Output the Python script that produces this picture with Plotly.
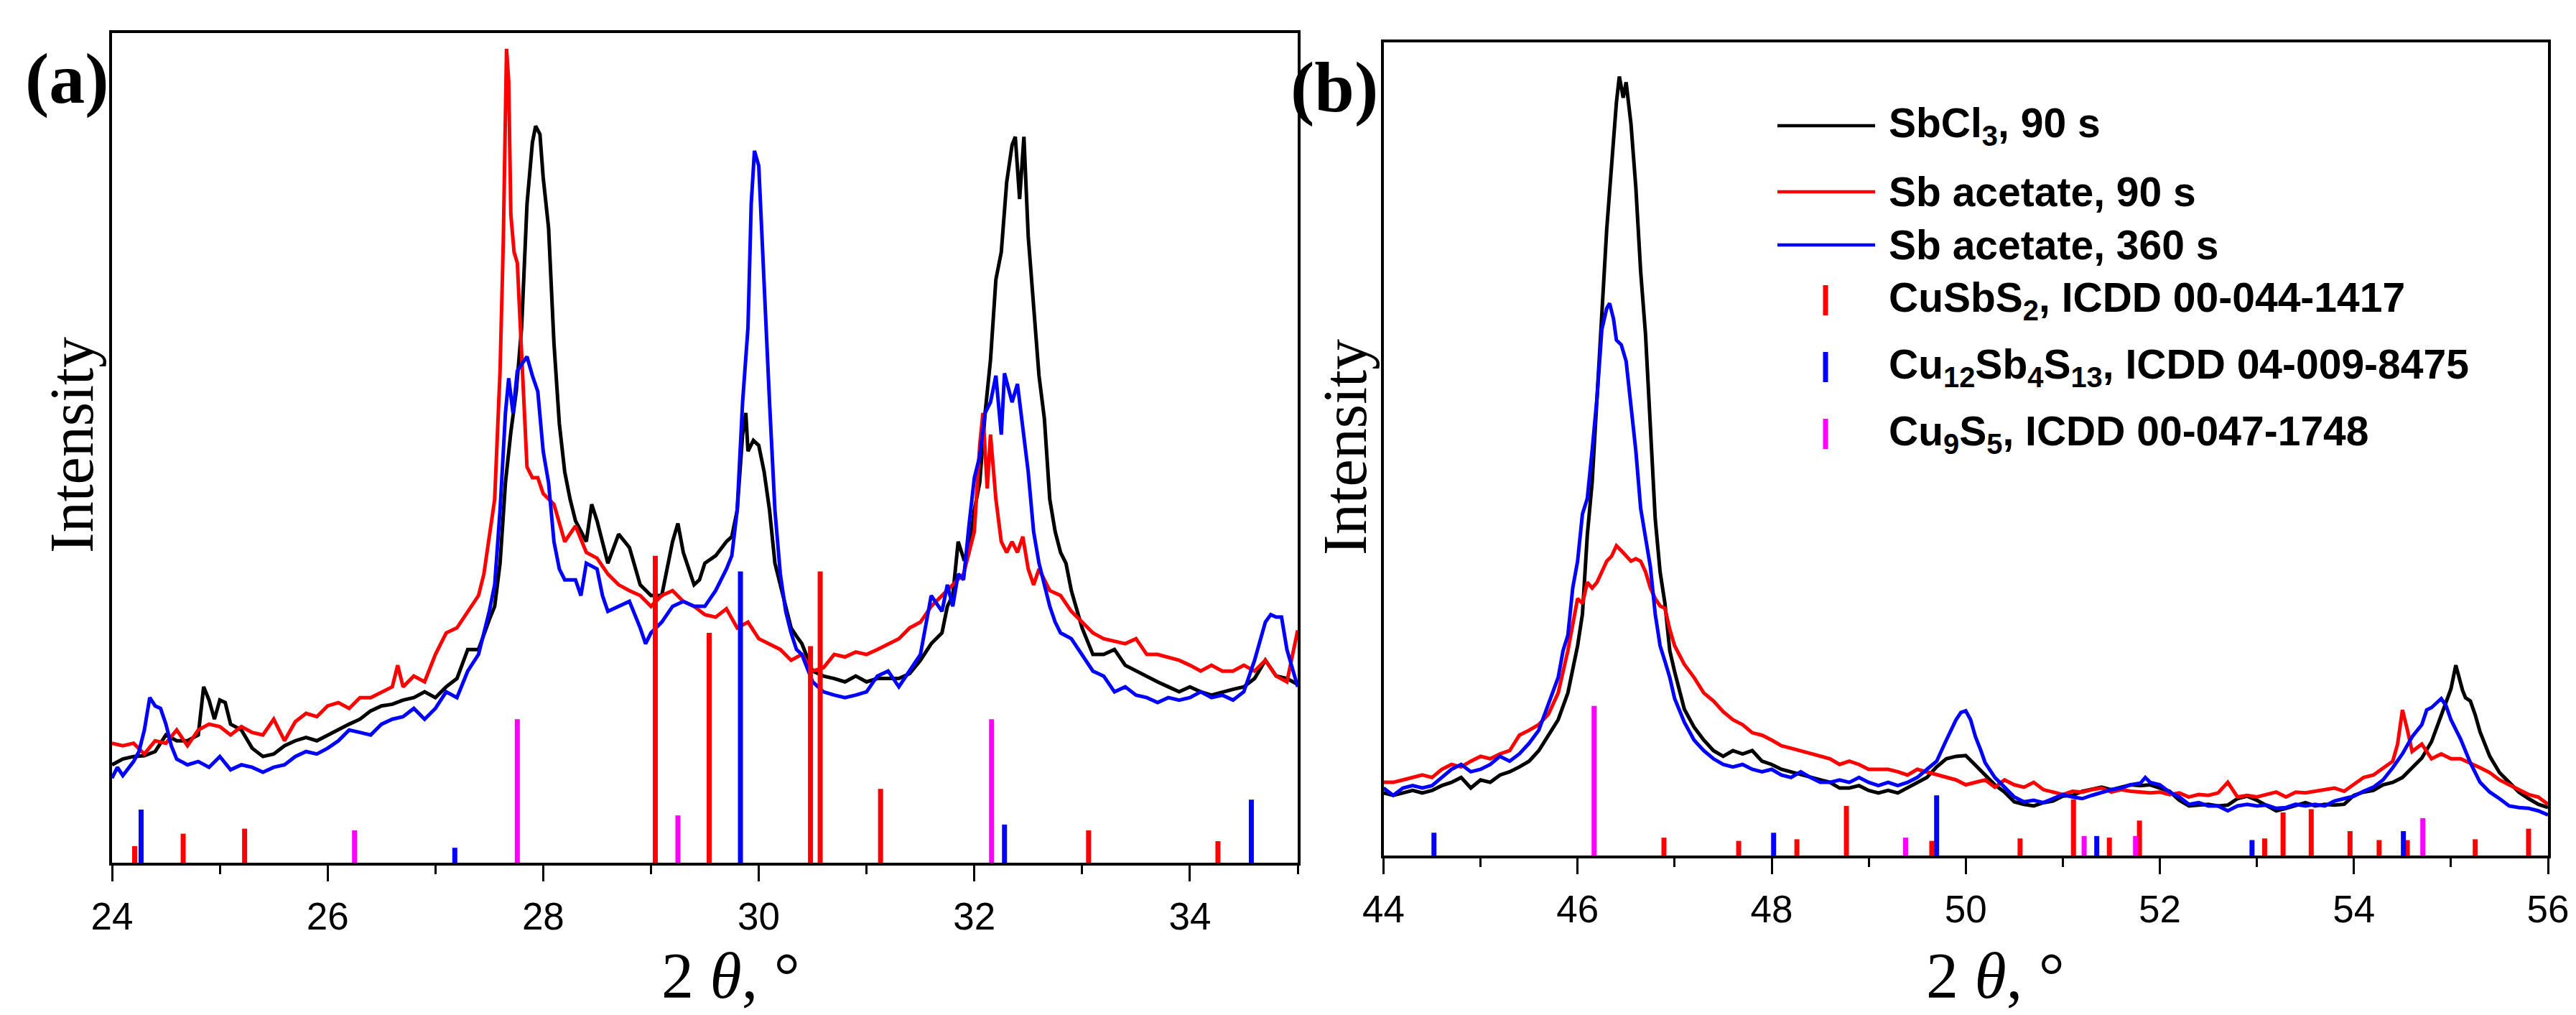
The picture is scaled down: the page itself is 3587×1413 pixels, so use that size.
import plotly.graph_objects as go

# ---------- panel (a): 2theta 24-35 ----------
a_x_sbcl3 = [24.0, 24.1, 24.2, 24.3, 24.4, 24.5, 24.6, 24.7, 24.8, 24.85, 24.9, 24.95,
             25.0, 25.05, 25.1, 25.2, 25.3, 25.4, 25.5, 25.6, 25.7, 25.8, 25.9,
             26.0, 26.1, 26.2, 26.3, 26.4, 26.5, 26.6, 26.7, 26.8, 26.9,
             27.0, 27.1, 27.2, 27.3, 27.4, 27.5, 27.55, 27.6, 27.65, 27.7, 27.75, 27.8, 27.85, 27.9, 27.93, 27.97,
             28.0, 28.05, 28.1, 28.15, 28.2, 28.25, 28.3, 28.4, 28.45, 28.5, 28.55, 28.6, 28.7, 28.8, 28.9,
             29.0, 29.1, 29.2, 29.25, 29.3, 29.4, 29.45, 29.5, 29.6, 29.7, 29.75, 29.8, 29.85, 29.88, 29.9, 29.95,
             30.0, 30.05, 30.1, 30.15, 30.2, 30.25, 30.3, 30.35, 30.4, 30.5, 30.6, 30.7, 30.8, 30.9,
             31.0, 31.1, 31.2, 31.3, 31.4, 31.5, 31.6, 31.7, 31.75, 31.8, 31.85, 31.9, 31.95,
             32.0, 32.05, 32.1, 32.15, 32.2, 32.25, 32.3, 32.35, 32.38, 32.42, 32.46, 32.5, 32.55, 32.6, 32.65,
             32.7, 32.75, 32.8, 32.85, 32.9,
             33.0, 33.1, 33.2, 33.3, 33.4, 33.5, 33.6, 33.7, 33.8, 33.9,
             34.0, 34.1, 34.2, 34.3, 34.4, 34.5, 34.6, 34.7, 34.8, 34.9, 35.0]
a_y_sbcl3 = [11.8, 12.5, 12.8, 12.9, 13.4, 15.4, 14.7, 14.7, 15.4, 21.2, 19.6, 17.3,
             19.6, 19.3, 16.7, 16.0, 13.8, 12.8, 13.1, 14.1, 14.7, 15.1, 14.7,
             15.4, 16.0, 16.7, 17.3, 18.3, 18.9, 19.1, 19.6, 19.9, 20.6,
             19.9, 21.2, 22.2, 25.7, 25.7, 29.3, 30.9, 36.1, 45.8, 51.9, 56.8, 64.5, 79.4, 86.8, 88.8, 87.8,
             82.6, 76.5, 62.6, 52.9, 47.1, 43.8, 41.2, 38.7, 43.2, 41.2, 38.7, 36.1, 39.6, 38.0, 33.5,
             32.2, 32.2, 38.7, 40.9, 37.4, 33.5, 34.1, 36.1, 37.0, 38.7, 39.3, 42.5, 51.6, 54.2, 49.6, 50.9,
             50.3, 47.1, 42.5, 36.1, 33.5, 30.9, 28.3, 27.3, 26.4, 23.1, 22.5, 22.2, 21.8, 22.5,
             21.8, 22.2, 22.2, 22.2, 22.8, 24.4, 26.4, 27.7, 30.9, 32.2, 38.7, 36.7, 37.4,
             42.5, 45.8, 54.2, 60.6, 70.3, 73.6, 82.0, 86.5, 87.5, 80.0, 87.5, 75.5, 67.1, 58.7, 53.5,
             43.8, 39.9, 37.4, 36.1, 32.8,
             28.3, 25.1, 25.1, 25.7, 23.8, 23.1, 22.5, 21.8, 21.2, 20.6,
             21.2, 20.6, 20.2, 20.6, 20.9, 21.2, 22.2, 24.4, 22.5, 22.2, 21.5]

a_x_ac90 = [24.0, 24.1, 24.2, 24.3, 24.4, 24.5, 24.6, 24.7, 24.8, 24.9,
            25.0, 25.1, 25.2, 25.3, 25.4, 25.5, 25.6, 25.7, 25.8, 25.9,
            26.0, 26.1, 26.2, 26.3, 26.4, 26.5, 26.6, 26.65, 26.7, 26.8, 26.9,
            27.0, 27.1, 27.2, 27.3, 27.4, 27.45, 27.5, 27.55, 27.6, 27.63, 27.66, 27.68, 27.7, 27.73, 27.76,
            27.8, 27.85, 27.9, 27.95,
            28.0, 28.1, 28.2, 28.3, 28.4, 28.5, 28.6, 28.7, 28.8, 28.9,
            29.0, 29.1, 29.2, 29.3, 29.4, 29.5, 29.6, 29.7, 29.8, 29.9,
            30.0, 30.1, 30.2, 30.3, 30.4, 30.5, 30.6, 30.7, 30.8, 30.9,
            31.0, 31.1, 31.2, 31.3, 31.4, 31.5, 31.6, 31.7, 31.8, 31.9,
            32.0, 32.05, 32.08, 32.12, 32.15, 32.2, 32.25, 32.3, 32.35, 32.4, 32.45, 32.5, 32.55, 32.6,
            32.7, 32.8, 32.9,
            33.0, 33.1, 33.2, 33.3, 33.4, 33.5, 33.6, 33.7, 33.8, 33.9,
            34.0, 34.1, 34.2, 34.3, 34.4, 34.5, 34.6, 34.7, 34.8, 34.9, 35.0]
a_y_ac90 = [14.4, 14.1, 14.4, 13.1, 14.7, 14.4, 16.0, 14.1, 16.0, 16.7,
            16.4, 15.4, 16.4, 15.7, 15.4, 17.3, 14.7, 17.0, 18.0, 17.6,
            18.9, 19.3, 18.6, 19.9, 19.9, 20.6, 21.2, 23.8, 21.2, 22.5, 21.8,
            25.1, 27.7, 28.3, 30.3, 32.2, 34.8, 39.3, 43.8, 59.3, 74.9, 98.1, 94.2, 78.1, 73.6, 72.3,
            61.9, 47.7, 46.4, 46.4,
            44.5, 43.2, 38.7, 40.6, 37.4, 36.7, 34.8, 33.5, 32.8, 32.2,
            30.9, 32.2, 32.8, 31.5, 30.9, 29.9, 29.6, 30.6, 28.3, 29.0,
            27.0, 26.4, 25.7, 24.4, 25.1, 23.1, 23.5, 25.1, 24.8, 25.4,
            25.1, 25.7, 26.4, 27.0, 28.3, 29.0, 30.9, 32.2, 33.5, 34.8,
            39.9, 50.3, 54.2, 45.1, 51.6, 43.8, 38.7, 37.4, 38.7, 37.4, 39.3, 35.4, 33.5, 35.4,
            32.8, 32.2, 30.3,
            29.0, 27.7, 27.0, 26.7, 26.4, 27.0, 25.1, 25.1, 24.8, 24.4,
            23.8, 23.1, 23.8, 23.1, 23.1, 23.8, 23.1, 24.4, 22.5, 21.8, 28.0]

a_x_ac360 = [24.0, 24.05, 24.1, 24.2, 24.25, 24.3, 24.35, 24.4, 24.45, 24.5, 24.55, 24.6, 24.7, 24.8, 24.9,
             25.0, 25.1, 25.2, 25.3, 25.4, 25.5, 25.6, 25.7, 25.8, 25.9,
             26.0, 26.1, 26.2, 26.3, 26.4, 26.5, 26.6, 26.7, 26.8, 26.9,
             27.0, 27.1, 27.2, 27.3, 27.4, 27.5, 27.55, 27.6, 27.65, 27.68, 27.72, 27.76, 27.8, 27.85, 27.9, 27.95,
             28.0, 28.05, 28.1, 28.15, 28.2, 28.3, 28.35, 28.4, 28.5, 28.55, 28.6, 28.7, 28.8, 28.9, 28.95,
             29.0, 29.1, 29.2, 29.3, 29.4, 29.5, 29.6, 29.7, 29.75, 29.8, 29.85, 29.9, 29.93, 29.96,
             30.0, 30.05, 30.1, 30.15, 30.2, 30.25, 30.3, 30.35, 30.4, 30.5, 30.6, 30.7, 30.8, 30.9,
             31.0, 31.1, 31.2, 31.3, 31.4, 31.5, 31.6, 31.7, 31.75, 31.8, 31.85, 31.9, 31.95,
             32.0, 32.05, 32.1, 32.15, 32.2, 32.25, 32.28, 32.3, 32.35, 32.4, 32.45, 32.5, 32.55, 32.6, 32.65,
             32.7, 32.75, 32.8, 32.9,
             33.0, 33.1, 33.2, 33.3, 33.4, 33.5, 33.6, 33.7, 33.8, 33.9,
             34.0, 34.1, 34.2, 34.3, 34.4, 34.5, 34.6, 34.7, 34.75, 34.8, 34.85, 34.9, 35.0]
a_y_ac360 = [10.2, 11.5, 10.5, 12.2, 13.4, 16.0, 19.9, 18.9, 18.6, 16.7, 14.1, 12.5, 11.8, 12.2, 11.5,
             12.8, 11.2, 11.8, 11.5, 10.9, 11.5, 11.8, 12.8, 13.4, 13.1,
             13.8, 14.7, 16.0, 15.7, 15.4, 16.7, 17.3, 17.6, 18.6, 17.3,
             18.6, 20.6, 19.9, 23.1, 25.1, 30.3, 33.5, 42.5, 54.2, 58.4, 54.2, 59.3, 60.0, 61.0, 58.7, 56.8,
             49.6, 45.8, 38.7, 35.4, 34.1, 34.1, 32.2, 36.1, 35.4, 32.2, 30.3, 30.9, 31.5, 28.3, 26.4,
             27.7, 29.0, 30.9, 31.5, 30.9, 30.9, 32.8, 35.4, 37.0, 42.5, 55.5, 64.5, 79.4, 85.8,
             84.0, 69.0, 55.5, 42.5, 34.8, 30.3, 27.7, 25.7, 25.1, 21.8, 20.6, 20.2, 19.9, 20.2,
             20.6, 22.5, 23.1, 21.2, 23.1, 25.1, 32.2, 30.3, 33.5, 30.9, 34.8, 34.1, 40.6,
             46.4, 49.0, 54.2, 55.5, 58.7, 51.6, 59.0, 58.0, 55.5, 57.7, 52.2, 47.1, 39.9, 36.1, 33.5,
             30.9, 29.0, 27.7, 27.0,
             25.1, 23.1, 22.5, 20.6, 21.2, 20.2, 19.9, 19.3, 19.9, 19.6,
             19.9, 20.6, 19.9, 20.2, 19.6, 20.6, 24.4, 29.0, 29.9, 29.6, 29.6, 25.7, 21.2]

# reference patterns (line positions, relative heights) for panel (a)
a_cusbs2_pos = [24.21, 24.66, 25.23, 29.04, 29.54, 30.48, 30.57, 31.13, 33.06, 34.26]
a_cusbs2_h = [2.0, 3.5, 4.1, 37.0, 27.7, 26.1, 35.1, 8.9, 3.9, 2.6]
a_tetra_pos = [24.27, 27.18, 29.83, 32.28, 34.57]
a_tetra_h = [6.4, 1.8, 35.1, 4.6, 7.6]
a_cu9s5_pos = [26.25, 27.76, 29.25, 32.16]
a_cu9s5_h = [3.9, 17.3, 5.7, 17.3]

# ---------- panel (b): 2theta 44-56 ----------
b_x_sbcl3 = [44.0, 44.1, 44.2, 44.3, 44.4, 44.5, 44.6, 44.7, 44.8, 44.9,
             45.0, 45.1, 45.2, 45.3, 45.4, 45.5, 45.6, 45.7, 45.8, 45.9,
             46.0, 46.05, 46.1, 46.15, 46.2, 46.25, 46.3, 46.35, 46.4, 46.43, 46.47, 46.5, 46.55, 46.6, 46.65,
             46.7, 46.75, 46.8, 46.85, 46.9, 46.95,
             47.0, 47.1, 47.2, 47.3, 47.4, 47.5, 47.6, 47.7, 47.8, 47.9,
             48.0, 48.1, 48.2, 48.3, 48.4, 48.5, 48.6, 48.7, 48.8, 48.9,
             49.0, 49.1, 49.2, 49.3, 49.4, 49.5, 49.6, 49.7, 49.8, 49.9,
             50.0, 50.1, 50.2, 50.3, 50.4, 50.5, 50.6, 50.7, 50.8, 50.9,
             51.0, 51.1, 51.2, 51.3, 51.4, 51.5, 51.6, 51.7, 51.8, 51.9,
             52.0, 52.1, 52.2, 52.3, 52.4, 52.5, 52.6, 52.7, 52.8, 52.9,
             53.0, 53.1, 53.2, 53.3, 53.4, 53.5, 53.6, 53.7, 53.8, 53.9,
             54.0, 54.1, 54.2, 54.3, 54.4, 54.5, 54.6, 54.7, 54.8, 54.9,
             55.0, 55.05, 55.08, 55.12, 55.15, 55.2, 55.25, 55.3, 55.4, 55.5, 55.6, 55.7, 55.8, 55.9, 56.0]
b_y_sbcl3 = [7.7, 7.4, 7.7, 8.0, 7.7, 8.0, 8.6, 9.0, 9.6, 8.3,
             9.3, 9.0, 9.9, 10.3, 10.9, 11.6, 12.9, 14.8, 16.7, 20.0,
             25.8, 29.7, 39.4, 45.9, 56.9, 67.3, 77.0, 84.8, 92.6, 95.8, 93.2, 95.1, 90.0, 82.2, 71.8,
             64.1, 52.4, 41.4, 34.9, 31.0, 25.2,
             22.6, 18.0, 15.8, 14.2, 12.9, 12.2, 12.9, 12.5, 12.9, 11.6,
             11.2, 10.6, 10.3, 9.9, 9.6, 9.3, 9.0, 8.3, 8.3, 8.6,
             8.0, 7.7, 8.0, 7.7, 8.3, 9.0, 9.6, 10.9, 11.9, 12.2,
             12.3, 11.1, 9.9, 8.7, 7.8, 6.6, 6.3, 6.1, 6.5, 6.7,
             7.3, 7.4, 7.9, 8.1, 8.4, 8.1, 8.4, 8.7, 8.6, 8.7,
             8.3, 7.9, 6.8, 6.1, 6.2, 6.3, 6.1, 6.2, 7.0, 7.3,
             6.8, 6.1, 5.5, 5.8, 6.1, 6.5, 6.1, 6.3, 6.2, 6.3,
             7.4, 7.8, 8.0, 8.7, 9.0, 9.6, 10.8, 12.0, 14.0, 17.3,
             20.5, 23.4, 22.0, 20.3, 19.4, 19.0, 17.3, 15.2, 12.2, 10.2, 9.0, 7.8, 7.0, 6.3, 5.9]

b_x_ac90 = [44.0, 44.1, 44.2, 44.3, 44.4, 44.5, 44.6, 44.7, 44.8, 44.9,
            45.0, 45.1, 45.2, 45.3, 45.4, 45.5, 45.6, 45.7, 45.8, 45.9, 45.95,
            46.0, 46.05, 46.1, 46.15, 46.2, 46.25, 46.3, 46.35, 46.4, 46.45, 46.5, 46.55, 46.6, 46.65,
            46.7, 46.75, 46.8, 46.85, 46.9, 46.95,
            47.0, 47.1, 47.2, 47.3, 47.4, 47.5, 47.6, 47.7, 47.8, 47.9,
            48.0, 48.1, 48.2, 48.3, 48.4, 48.5, 48.6, 48.7, 48.8, 48.9,
            49.0, 49.1, 49.2, 49.3, 49.4, 49.5, 49.6, 49.7, 49.8, 49.9,
            50.0, 50.1, 50.2, 50.3, 50.4, 50.5, 50.6, 50.7, 50.8, 50.9,
            51.0, 51.1, 51.2, 51.3, 51.4, 51.5, 51.6, 51.7, 51.8, 51.9,
            52.0, 52.1, 52.2, 52.3, 52.4, 52.5, 52.6, 52.7, 52.8, 52.9,
            53.0, 53.1, 53.2, 53.3, 53.4, 53.5, 53.6, 53.7, 53.8, 53.9,
            54.0, 54.1, 54.2, 54.3, 54.4, 54.45, 54.5, 54.55, 54.6, 54.7, 54.8, 54.9,
            55.0, 55.1, 55.2, 55.3, 55.4, 55.5, 55.6, 55.7, 55.8, 55.9, 56.0]
b_y_ac90 = [9.0, 9.0, 9.3, 9.6, 9.9, 9.6, 10.6, 11.2, 10.9, 11.6,
            12.2, 11.9, 12.5, 12.9, 14.8, 15.4, 16.1, 17.4, 20.0, 25.2, 28.4,
            31.6, 31.0, 33.6, 32.9, 33.6, 34.9, 36.2, 36.8, 38.1, 37.5, 36.8, 36.2, 36.5, 36.2,
            34.9, 32.9, 31.6, 30.7, 30.4, 27.8,
            25.8, 23.5, 21.9, 20.0, 19.0, 17.7, 16.7, 16.1, 15.1, 14.8,
            14.2, 13.5, 13.2, 12.9, 12.5, 12.2, 11.9, 11.2, 11.6, 11.2,
            10.6, 10.6, 10.6, 10.3, 9.9, 10.6, 10.3, 9.9, 9.6, 9.3,
            8.7, 9.0, 9.3, 8.4, 9.3, 8.7, 8.4, 9.0, 8.1, 7.8,
            7.5, 7.9, 7.8, 8.1, 8.3, 7.8, 8.1, 7.9, 7.8, 7.7,
            7.8, 7.5, 7.7, 7.2, 7.5, 7.4, 7.7, 9.0, 7.2, 7.4,
            7.2, 7.5, 7.8, 7.2, 7.8, 7.7, 7.9, 8.1, 8.3, 7.9,
            8.7, 9.6, 9.9, 10.8, 11.6, 13.7, 17.9, 15.5, 12.8, 13.7, 11.9, 12.5,
            11.9, 11.9, 11.4, 10.8, 10.2, 9.3, 8.7, 8.1, 7.5, 7.2, 6.3]

b_x_ac360 = [44.0, 44.1, 44.2, 44.3, 44.4, 44.5, 44.6, 44.7, 44.8, 44.9,
             45.0, 45.1, 45.2, 45.3, 45.4, 45.5, 45.6, 45.7, 45.8, 45.85, 45.9, 45.95,
             46.0, 46.05, 46.1, 46.15, 46.2, 46.25, 46.3, 46.33, 46.37, 46.4, 46.45, 46.5, 46.55, 46.6, 46.65,
             46.7, 46.75, 46.8, 46.85, 46.9, 46.95,
             47.0, 47.1, 47.2, 47.3, 47.4, 47.5, 47.6, 47.7, 47.8, 47.9,
             48.0, 48.1, 48.2, 48.3, 48.4, 48.5, 48.6, 48.7, 48.8, 48.9,
             49.0, 49.1, 49.2, 49.3, 49.4, 49.5, 49.6, 49.7, 49.8, 49.85, 49.9, 49.95,
             50.0, 50.05, 50.1, 50.15, 50.2, 50.3, 50.4, 50.5, 50.6, 50.7, 50.8, 50.9,
             51.0, 51.1, 51.2, 51.3, 51.4, 51.5, 51.6, 51.7, 51.8, 51.85, 51.9,
             52.0, 52.1, 52.2, 52.3, 52.4, 52.5, 52.6, 52.7, 52.8, 52.9,
             53.0, 53.1, 53.2, 53.3, 53.4, 53.5, 53.6, 53.7, 53.8, 53.9,
             54.0, 54.1, 54.2, 54.3, 54.4, 54.5, 54.6, 54.7, 54.75, 54.8, 54.85, 54.9, 54.95,
             55.0, 55.1, 55.2, 55.3, 55.4, 55.5, 55.6, 55.7, 55.8, 55.9, 56.0]
b_y_ac360 = [8.3, 7.4, 8.3, 8.6, 8.3, 8.6, 9.6, 10.6, 11.2, 10.3,
             10.6, 11.2, 12.2, 11.6, 12.5, 13.8, 15.4, 18.7, 21.9, 25.2, 27.1, 32.9,
             36.2, 42.0, 43.9, 49.8, 56.3, 64.7, 67.3, 67.9, 66.0, 63.4, 62.8, 60.8, 55.0, 49.8, 42.7,
             39.4, 35.5, 29.7, 25.8, 23.9, 21.9,
             19.3, 16.4, 14.2, 12.9, 11.9, 11.2, 10.9, 11.2, 10.6, 10.3,
             10.6, 9.9, 9.6, 10.3, 9.6, 9.0, 9.0, 9.3, 9.0, 9.6,
             9.0, 8.6, 9.0, 8.6, 9.0, 9.6, 10.6, 11.6, 14.2, 15.4, 16.7, 17.6,
             17.8, 16.7, 14.6, 13.1, 11.4, 9.6, 8.4, 7.2, 6.6, 6.8, 6.5, 7.0,
             7.5, 7.2, 7.0, 7.4, 7.8, 8.1, 8.3, 8.7, 8.9, 9.6, 9.0,
             8.7, 7.8, 7.2, 6.3, 6.5, 6.1, 6.1, 5.5, 6.1, 6.3,
             6.1, 6.2, 5.8, 5.9, 6.3, 6.1, 6.3, 6.1, 6.7, 7.0,
             7.3, 7.9, 8.4, 9.3, 10.8, 12.5, 14.6, 16.1, 17.9, 18.2, 18.7, 19.3, 18.4,
             16.7, 14.3, 11.4, 9.0, 7.8, 7.0, 6.1, 5.9, 5.8, 5.5, 5.0]

b_cusbs2_pos = [46.89, 47.66, 48.26, 48.77, 49.65, 50.56, 51.11, 51.48, 51.79, 53.08,
                53.27, 53.56, 53.96, 54.26, 54.55, 55.25, 55.80]
b_cusbs2_h = [2.2, 1.8, 2.0, 6.1, 1.8, 2.1, 6.9, 2.2, 4.3, 2.1,
              5.3, 5.7, 3.0, 1.9, 1.9, 2.0, 3.3]
b_tetra_pos = [44.52, 48.02, 49.70, 51.35, 52.95, 54.51]
b_tetra_h = [2.8, 2.8, 7.4, 2.4, 1.9, 3.0]
b_cu9s5_pos = [46.17, 49.38, 51.22, 51.75, 54.71]
b_cu9s5_h = [18.4, 2.2, 2.4, 2.4, 4.6]

legend_labels = ["SbCl<sub>3</sub>, 90 s", "Sb acetate, 90 s", "Sb acetate, 360 s",
                 "CuSbS<sub>2</sub>, ICDD 00-044-1417",
                 "Cu<sub>12</sub>Sb<sub>4</sub>S<sub>13</sub>, ICDD 04-009-8475",
                 "Cu<sub>9</sub>S<sub>5</sub>, ICDD 00-047-1748"]

BLACK, RED, BLUE, MAGENTA = "#000000", "#ff0000", "#0000ff", "#ff00ff"
W, H = 3587, 1413
SANS = "Liberation Sans, Arial, sans-serif"
SERIF = "Liberation Serif, Times New Roman, serif"


def sticks(pos, heights):
    # turn a stick pattern into one broken line: 0 -> h at every position
    xs, ys = [], []
    for p, h in zip(pos, heights):
        xs += [p, p, None]
        ys += [0, h, None]
    return xs, ys


fig = go.Figure()

panels = [
    ("x", "y", [(a_x_sbcl3, a_y_sbcl3, BLACK), (a_x_ac90, a_y_ac90, RED), (a_x_ac360, a_y_ac360, BLUE)],
     [(a_cusbs2_pos, a_cusbs2_h, RED), (a_tetra_pos, a_tetra_h, BLUE), (a_cu9s5_pos, a_cu9s5_h, MAGENTA)]),
    ("x2", "y2", [(b_x_sbcl3, b_y_sbcl3, BLACK), (b_x_ac90, b_y_ac90, RED), (b_x_ac360, b_y_ac360, BLUE)],
     [(b_cusbs2_pos, b_cusbs2_h, RED), (b_tetra_pos, b_tetra_h, BLUE), (b_cu9s5_pos, b_cu9s5_h, MAGENTA)]),
]
for xa, ya, curves, patterns in panels:
    for xs, ys, col in curves:
        fig.add_trace(go.Scatter(x=xs, y=ys, mode="lines", xaxis=xa, yaxis=ya,
                                 line=dict(color=col, width=5), showlegend=False))
    for pos, hts, col in patterns:
        sx, sy = sticks(pos, hts)
        fig.add_trace(go.Scatter(x=sx, y=sy, mode="lines", xaxis=xa, yaxis=ya,
                                 line=dict(color=col, width=7), showlegend=False))


def px(x):
    return x / W


def py(y):
    return 1 - y / H


xcommon = dict(showgrid=False, zeroline=False, showline=True, linecolor="black", linewidth=3.5,
               mirror=True, ticks="outside", ticklen=22, tickwidth=3, tickcolor="black",
               dtick=2, tickfont=dict(family=SANS, size=53, color="black"), ticklabelstandoff=4,
               automargin=False,
               minor=dict(dtick=1, ticks="outside", ticklen=12, tickwidth=3, tickcolor="black"))
ycommon = dict(showgrid=False, zeroline=False, showline=True, linecolor="black", linewidth=3.5,
               mirror=True, ticks="", showticklabels=False, range=[0, 100], automargin=False)

fig.update_layout(
    width=W, height=H, margin=dict(l=0, r=0, t=0, b=0, pad=0, autoexpand=False),
    paper_bgcolor="white", plot_bgcolor="white", showlegend=False,
    xaxis=dict(xcommon, domain=[px(148), px(1799)], range=[24, 35], tick0=24, anchor="y"),
    yaxis=dict(ycommon, domain=[py(1193), py(38)], anchor="x"),
    xaxis2=dict(xcommon, domain=[px(1918.5), px(3540)], range=[44, 56], tick0=44, anchor="y2"),
    yaxis2=dict(ycommon, domain=[py(1183), py(51)], anchor="x2"),
)

ann = []
ann.append(dict(text="<b>(a)</b>", x=px(85), y=py(102), font=dict(family=SERIF, size=100)))
ann.append(dict(text="<b>(b)</b>", x=px(1850), y=py(113), font=dict(family=SERIF, size=100)))
for xc, yc in [(92, 612), (1865, 615)]:
    ann.append(dict(text="Intensity", x=px(xc), y=py(yc), textangle=-90,
                    font=dict(family=SERIF, size=86)))
for xc in [1010, 2770]:
    ann.append(dict(text="2 <i>θ</i>, °", x=px(xc), y=py(1350), font=dict(family=SERIF, size=90)))

# legend drawn by hand in panel (b)
leg_rows = [167, 259, 333, 410, 503, 596]
shapes = []
for i, (row, col) in enumerate(zip(leg_rows, [BLACK, RED, BLUE, RED, BLUE, MAGENTA])):
    if i < 3:
        shapes.append(dict(type="line", xref="paper", yref="paper", x0=px(2467), x1=px(2603),
                           y0=py(row), y1=py(row), line=dict(color=col, width=4.5)))
    else:
        shapes.append(dict(type="line", xref="paper", yref="paper", x0=px(2534), x1=px(2534),
                           y0=py(row + 21), y1=py(row - 21), line=dict(color=col, width=7)))
    ann.append(dict(text="<b>" + legend_labels[i] + "</b>", x=px(2620), y=py(row), xanchor="left",
                    font=dict(family=SANS, size=57)))

for a in ann:
    a.setdefault("xanchor", "center")
    a.update(xref="paper", yref="paper", yanchor="middle", showarrow=False)
    a["font"]["color"] = "black"

fig.update_layout(annotations=ann, shapes=shapes)
fig.write_html("out.html")
